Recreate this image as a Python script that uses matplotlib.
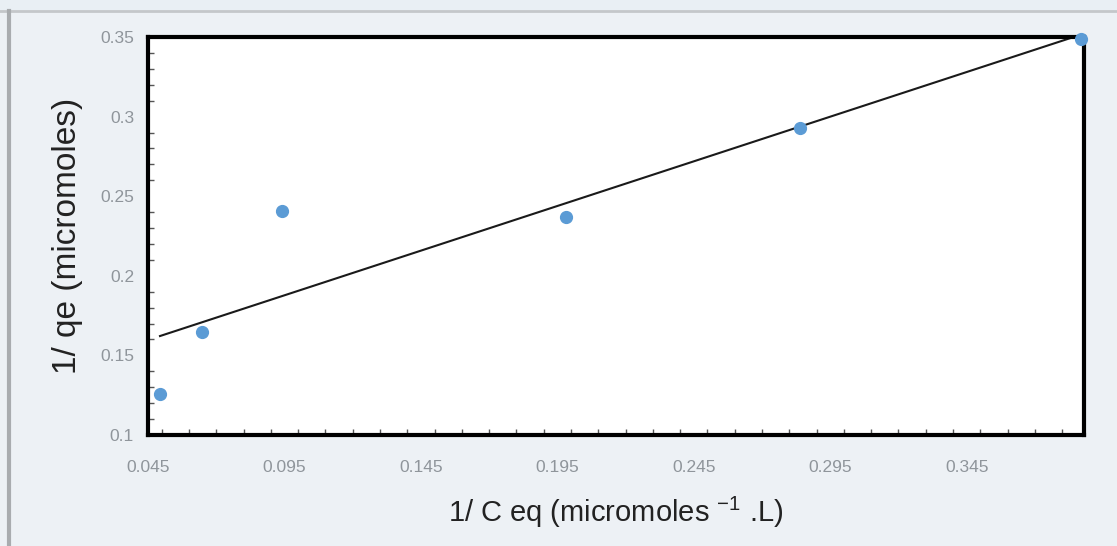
import numpy as np
import matplotlib.pyplot as plt
from matplotlib.ticker import MultipleLocator, FixedLocator
from matplotlib.patches import Rectangle

plt.rcParams['font.family'] = ['Liberation Sans', 'DejaVu Sans']
plt.rcParams['mathtext.fontset'] = 'custom'
plt.rcParams['mathtext.rm'] = 'Liberation Sans'
plt.rcParams['mathtext.it'] = 'Liberation Sans'

# data
inv_ceq = [0.0494, 0.0648, 0.094, 0.198, 0.284, 0.387]
inv_qe = [0.126, 0.165, 0.241, 0.237, 0.293, 0.349]

x_ticks = [0.045, 0.095, 0.145, 0.195, 0.245, 0.295, 0.345]
y_ticks = [0.1, 0.15, 0.2, 0.25, 0.3, 0.35]

fig = plt.figure(figsize=(11.17, 5.46), dpi=100)
fig.patch.set_facecolor('#e9eff4')

# light frame of the slide panel
fig.add_artist(Rectangle((0, 0), 1, 1 - 11 / 546, transform=fig.transFigure,
                         facecolor='#edf1f5', edgecolor='none', zorder=-2))
fig.add_artist(plt.Line2D([0, 1], [1 - 11 / 546] * 2, transform=fig.transFigure,
                          color='#c4c7ca', lw=2))
fig.add_artist(plt.Line2D([9 / 1117] * 2, [0, 1 - 11 / 546], transform=fig.transFigure,
                          color='#a9acaf', lw=3))

ax = fig.add_axes([148 / 1117, 1 - 435 / 546, (1084 - 148) / 1117, (435 - 37) / 546])
ax.set_facecolor('white')

# trend line (least squares)
slope, intercept = np.polyfit(inv_ceq, inv_qe, 1)
xs = np.array([inv_ceq[0], inv_ceq[-1]])
ax.plot(xs, slope * xs + intercept, color='#1a1a1a', lw=1.5, zorder=2)

ax.plot(inv_ceq, inv_qe, 'o', color='#5b9bd5', markersize=8.5, zorder=3, clip_on=False)

ax.set_xlim(0.045, 0.388)
ax.set_ylim(0.1, 0.35)
ax.xaxis.set_major_locator(FixedLocator(x_ticks))
ax.xaxis.set_minor_locator(MultipleLocator(0.01))
ax.yaxis.set_major_locator(FixedLocator(y_ticks))
ax.yaxis.set_minor_locator(MultipleLocator(0.01))
ax.set_xticklabels([f'{v:.3f}' for v in x_ticks])
ax.set_yticklabels(['0.1', '0.15', '0.2', '0.25', '0.3', '0.35'])

ax.tick_params(axis='both', which='both', direction='in', color='#555555',
               labelcolor='#8f959b', labelsize=12.5)
ax.tick_params(axis='both', which='minor', length=4, width=1)
ax.tick_params(axis='x', which='major', pad=18, length=0)
ax.tick_params(axis='y', which='major', pad=10, length=0)

for s in ax.spines.values():
    s.set_color('black')
    s.set_linewidth(3)

ax.set_xlabel('1/ C eq (micromoles $^{\\mathregular{-1}}$ .L)', fontsize=21,
              color='#222222', labelpad=14)
ax.set_ylabel('1/ qe (micromoles)', fontsize=24, color='#222222', labelpad=12)

fig.savefig('out.png', dpi=100, facecolor=fig.get_facecolor())
